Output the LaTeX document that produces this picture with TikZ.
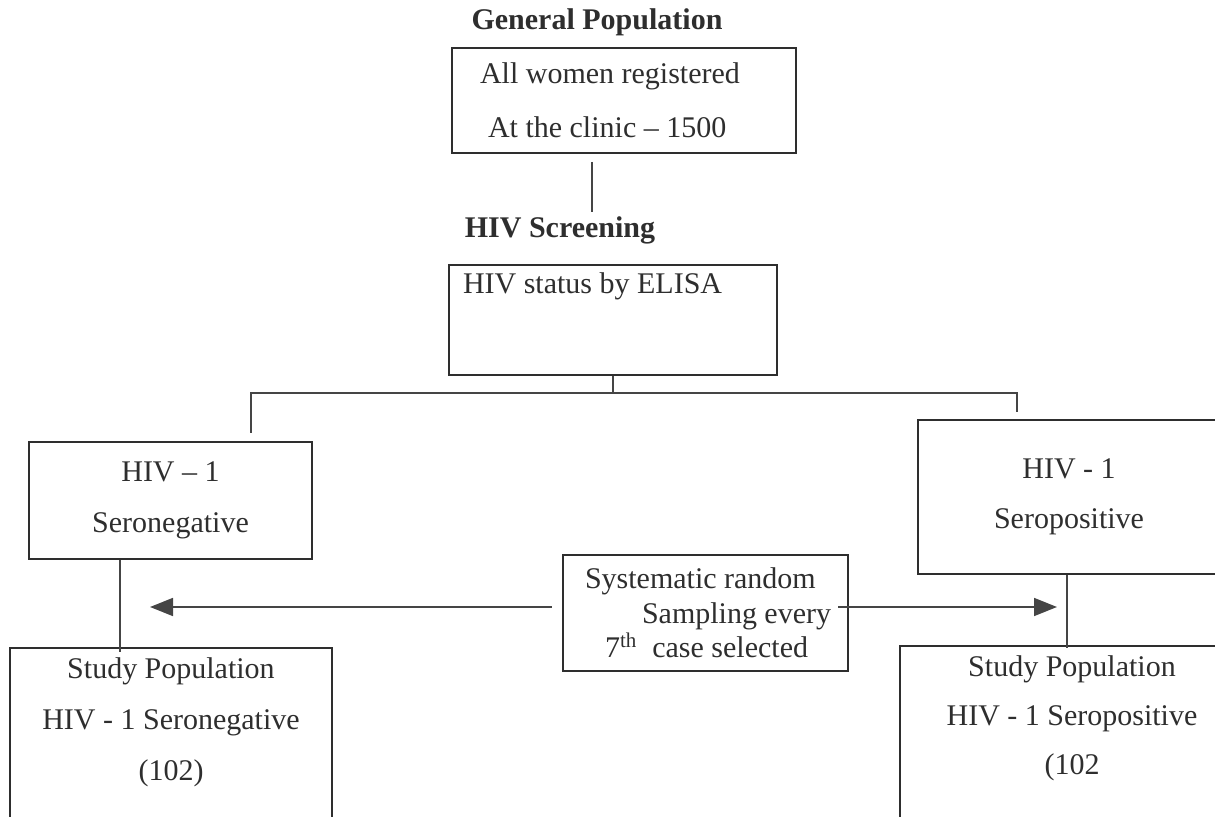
\documentclass[tikz,border=0pt]{standalone}
\usepackage{fontspec}
\setmainfont{Liberation Serif}
\usetikzlibrary{arrows.meta,positioning}
\definecolor{ink}{HTML}{2E2E2E}
\definecolor{rulegrey}{HTML}{454545}

\tikzset{
  flowbox/.style={draw=ink, line width=1.1pt, align=center, inner sep=0pt, text=ink},
  heading/.style={text=ink, font=\fontsize{15}{18}\selectfont\bfseries, inner sep=2pt},
  link/.style={draw=rulegrey, line width=0.8pt},
  pick/.style={link, -{Triangle[length=11.5pt,width=9pt]}, fill=rulegrey},
}

\begin{document}
\begin{tikzpicture}[x=0.5pt, y=-0.5pt]
  \useasboundingbox (0,0) rectangle (1215,817);
  \clip (0,0) rectangle (1215,817);

  \node[heading] (gphead) at (597,22) {General Population};
  \node[flowbox, minimum height=52.5pt, text width=144pt, align=flush left,
    inner xsep=14pt, font=\fontsize{15}{27}\selectfont] (gp) at (624,100.5)
    {All women registered\\\hspace*{4pt}At the clinic – 1500};

  \node[heading] (scr) at (560,230) {HIV Screening};
  \node[flowbox, anchor=north, text width=150pt, align=flush left, inner xsep=7pt,
    inner ysep=4pt, text depth=36.5pt, font=\fontsize{15}{18}\selectfont]
    (elisa) at (613,264) {HIV status by ELISA};

  \node[flowbox, minimum width=141.5pt, minimum height=58.5pt,
    font=\fontsize{15}{25.5}\selectfont] (neg) at (170.5,500.5)
    {HIV – 1\\Seronegative};
  \node[flowbox, minimum width=151pt, minimum height=77pt,
    font=\fontsize{15}{25}\selectfont] (pos) at (1069,497)
    {HIV - 1\\Seropositive};

  \node[flowbox, minimum width=142.5pt, minimum height=58pt, text width=130pt,
    align=flush left, inner xsep=6.25pt, font=\fontsize{15}{17.25}\selectfont]
    (samp) at (705.5,613)
    {\hspace*{4.75pt}Systematic random\\
     \hspace*{33.25pt}Sampling every\\
     \hspace*{14.75pt}7\textsuperscript{th}\ \ case selected};

  \node[flowbox, anchor=north, text width=151pt, align=flush center, inner xsep=5pt,
    inner ysep=5pt, text depth=76.5pt, font=\fontsize{15}{25.5}\selectfont]
    (negstudy) at (171,647)
    {Study Population\\HIV - 1 Seronegative\\(102)};
  \node[flowbox, anchor=north, text width=162pt, align=flush center, inner xsep=5pt,
    inner ysep=5pt, text depth=80pt, font=\fontsize{15}{24.5}\selectfont]
    (posstudy) at (1072,645)
    {Study Population\\HIV - 1 Seropositive\\(102};

  \coordinate (gpfoot) at (592,162);
  \coordinate (fork) at (613,393);
  \coordinate (negtop) at (251,433);
  \coordinate (postop) at (1017,412);
  \coordinate (negdrop) at (120,652);
  \coordinate (posdrop) at (1067,648);
  \coordinate (negtip) at (150,607);
  \coordinate (postip) at (1057,607);

  \draw[link] (gpfoot) -- (gpfoot |- scr.north);
  \draw[link] (elisa.south) -- (fork);
  \draw[link] (negtop) |- (fork) -| (postop);
  \draw[link] (negdrop |- neg.south) -- (negdrop);
  \draw[link] (posdrop |- pos.south) -- (posdrop);
  \draw[pick] (samp.west |- negtip) ++(-10,0) -- (negtip);
  \draw[pick] (samp.east |- postip) ++(-11,0) -- (postip);
\end{tikzpicture}
\end{document}
